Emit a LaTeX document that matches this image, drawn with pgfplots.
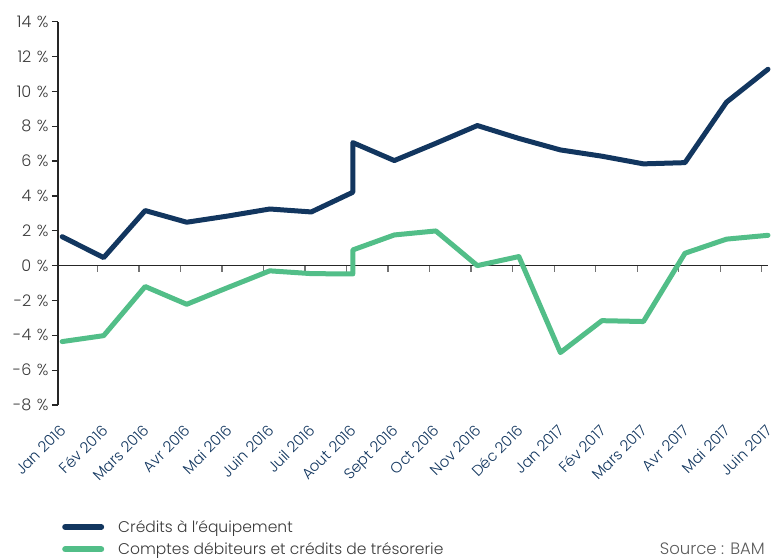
\documentclass[border=0pt]{standalone}
\usepackage{fontspec}
\setmainfont{Poppins}[UprightFont={* Light}]
\usepackage{pgfplots}
\pgfplotsset{compat=1.18}
\definecolor{navy}{HTML}{12365F}
\definecolor{mint}{HTML}{52BE88}
\definecolor{labgray}{HTML}{3A3A3A}
\definecolor{srcgray}{HTML}{5A5A5A}

% Taux de croissance (%), Jan 2016 - Juin 2017; en aout 2016 deux valeurs (rupture de serie)
\pgfplotstableread{
x y
0 1.66
1 0.46
2 3.16
3 2.49
4 2.85
5 3.25
6 3.08
7 4.21
7 7.06
8 6.03
9 7.02
10 8.04
11 7.30
12 6.64
13 6.28
14 5.84
15 5.91
16 9.38
17 11.27
}\equip
\pgfplotstableread{
x y
0 -4.36
1 -4.02
2 -1.20
3 -2.22
4 -1.25
5 -0.30
6 -0.46
7 -0.48
7 0.90
8 1.76
9 1.99
10 0.00
11 0.52
12 -4.99
13 -3.16
14 -3.21
15 0.71
16 1.52
17 1.74
}\tresor

\begin{document}
\begin{tikzpicture}
\begin{axis}[
  scale only axis,
  width=710pt, height=383.3pt,
  xmin=-0.1, xmax=17, ymin=-8, ymax=14,
  clip=false,
  axis x line=middle, axis y line=left,
  axis line style={-, line width=1.3pt, black!85},
  tick align=outside,
  major tick length=6pt, minor tick length=6pt,
  ytick={-8,-6,...,14},
  yticklabel={\pgfmathprintnumber[assume math mode=true]{\tick}\hspace{5.5pt}\%},
  yticklabel style={font=\fontsize{16}{18}\selectfont, text=labgray},
  ytick style={line width=1.3pt, black!85},
  xtick={0,...,17},
  xticklabels={Jan 2016,Fév 2016,Mars 2016,Avr 2016,Mai 2016,Juin 2016,Juil 2016,Aout 2016,Sept 2016,Oct 2016,Nov 2016,Déc 2016,Jan 2017,Fév 2017,Mars 2017,Avr 2017,Mai 2017,Juin 2017},
  xticklabel style={yshift=-147pt, xshift=-3pt, rotate=45, anchor=north east, font=\fontsize{15}{17}\selectfont, text=navy},
  major x tick style={draw=none},
  minor xtick={0.85,1.85,...,16.85},
  minor x tick style={line width=1.3pt, black!55},
  legend style={at={(0,0)}, anchor=north west, xshift=4pt, yshift=-115pt,
    draw=none, fill=none, inner sep=0pt, row sep=9pt,
    font=\fontsize{15.5}{17}\selectfont, text=labgray,
    nodes={inner sep=0pt},
    /tikz/every odd column/.append style={column sep=14pt}},
  legend cell align=left,
  legend image code/.code={\draw[#1, line width=6pt, line cap=round] (3pt,0pt) -- (39pt,0pt);},
]
\addplot[navy, line width=5pt, line join=round, line cap=round] table {\equip};
\addlegendentry{Crédits à l'équipement}
\addplot[mint, line width=5pt, line join=round, line cap=round] table {\tresor};
\addlegendentry{Comptes débiteurs et crédits de trésorerie}
\node[anchor=base east, font=\fontsize{16.5}{18}\selectfont, text=srcgray, inner sep=0pt]
  at (rel axis cs:1,0) [xshift=-3pt, yshift=-150pt] {Source : BAM};
\end{axis}
\pgfresetboundingbox
\path[use as bounding box] (-58pt,-154pt) rectangle (719pt,405pt);
\end{tikzpicture}
\end{document}
